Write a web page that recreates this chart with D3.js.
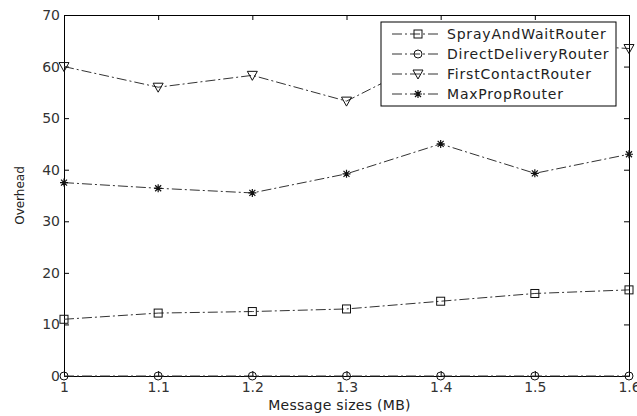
<!DOCTYPE html>
<html>
<head>
<meta charset="utf-8">
<script src="https://cdnjs.cloudflare.com/ajax/libs/d3/7.8.5/d3.min.js"></script>
<style>
  body { margin: 0; background: #fff; }
  text { font-family: "DejaVu Sans", Arial, sans-serif; }
</style>
</head>
<body>
<svg class="chart"></svg>
<script>
var sizes = [1, 1.1, 1.2, 1.3, 1.4, 1.5, 1.6];
var sprayAndWait = [11, 12.2, 12.5, 13, 14.5, 16, 16.7];
var directDelivery = [0, 0, 0, 0, 0, 0, 0];
var firstContact = [60, 56, 58.3, 53.3, 62.5, 64.5, 63.5];
var maxProp = [37.5, 36.4, 35.5, 39.2, 45, 39.3, 43];
var seriesNames = ["SprayAndWaitRouter", "DirectDeliveryRouter", "FirstContactRouter", "MaxPropRouter"];
var yTicks = [0, 10, 20, 30, 40, 50, 60, 70];

var chartWidth = 637, chartHeight = 416;
var plotLeft = 64, plotRight = 629, plotTop = 15, plotBottom = 376;

var svg = d3.select(".chart").attr("width", chartWidth).attr("height", chartHeight);

var x = d3.scaleLinear().domain([1, 1.6]).range([plotLeft, plotRight]);
var y = d3.scaleLinear().domain([0, 70]).range([plotBottom, plotTop]);

var series = [
	{ name: seriesNames[0], values: sprayAndWait, marker: "square" },
	{ name: seriesNames[1], values: directDelivery, marker: "circle" },
	{ name: seriesNames[2], values: firstContact, marker: "triangle" },
	{ name: seriesNames[3], values: maxProp, marker: "star" }
];

function drawMarker(g, type, cx, cy) {
	if (type == "square") {
		g.append("rect").attr("x", cx - 4).attr("y", cy - 4).attr("width", 8).attr("height", 8)
		 .attr("fill", "none").attr("stroke", "#111").attr("stroke-width", 1);
	} else if (type == "circle") {
		g.append("circle").attr("cx", cx).attr("cy", cy).attr("r", 4)
		 .attr("fill", "none").attr("stroke", "#111").attr("stroke-width", 1);
	} else if (type == "triangle") {
		g.append("path").attr("d", "M" + (cx - 5) + "," + (cy - 4) + "L" + (cx + 5) + "," + (cy - 4) + "L" + cx + "," + (cy + 5) + "Z")
		 .attr("fill", "none").attr("stroke", "#111").attr("stroke-width", 1);
	} else {
		g.append("path").attr("d", "M" + (cx - 4) + "," + cy + "H" + (cx + 4) + "M" + cx + "," + (cy - 4) + "V" + (cy + 4) +
			"M" + (cx - 3) + "," + (cy - 3) + "L" + (cx + 3) + "," + (cy + 3) + "M" + (cx - 3) + "," + (cy + 3) + "L" + (cx + 3) + "," + (cy - 3))
		 .attr("stroke", "#111").attr("stroke-width", 1.2);
	}
}

// axes box, ticks pointing inward
var xAxisB = d3.axisBottom(x).tickValues(sizes).tickSizeInner(-5).tickSizeOuter(0).tickPadding(6).tickFormat(d3.format(""));
var xAxisT = d3.axisTop(x).tickValues(sizes).tickSizeInner(-5).tickSizeOuter(0).tickFormat("");
var yAxisL = d3.axisLeft(y).tickValues(yTicks).tickSizeInner(-5).tickSizeOuter(0).tickPadding(4);
var yAxisR = d3.axisRight(y).tickValues(yTicks).tickSizeInner(-5).tickSizeOuter(0).tickFormat("");

function styleAxis(g) {
	g.selectAll("path, line").attr("stroke", "#000");
	g.selectAll("text").attr("font-size", 14).attr("fill", "#333").attr("font-family", "DejaVu Sans, Arial, sans-serif");
}

svg.append("g").attr("transform", "translate(0," + plotBottom + ")").call(xAxisB).call(styleAxis);
svg.append("g").attr("transform", "translate(0," + plotTop + ")").call(xAxisT).call(styleAxis);
svg.append("g").attr("transform", "translate(" + plotLeft + ",0)").call(yAxisL).call(styleAxis);
svg.append("g").attr("transform", "translate(" + plotRight + ",0)").call(yAxisR).call(styleAxis);

// lines
var line = d3.line().x(function(d, i) { return x(sizes[i]); }).y(function(d) { return y(d); });

series.forEach(function(s) {
	svg.append("path").datum(s.values)
		 .attr("d", line)
		 .attr("fill", "none")
		 .attr("stroke", "#333")
		 .attr("stroke-width", 1)
		 .attr("stroke-dasharray", "10,3,2,3");
	var g = svg.append("g");
	s.values.forEach(function(v, i) { drawMarker(g, s.marker, x(sizes[i]), y(v)); });
});

// legend
var legend = svg.append("g").attr("transform", "translate(381,22)");
legend.append("rect").attr("width", 235).attr("height", 84).attr("fill", "#fff").attr("stroke", "#000");
series.forEach(function(s, i) {
	var ly = 12 + i * 20;
	legend.append("line").attr("x1", 11).attr("x2", 60).attr("y1", ly).attr("y2", ly)
		 .attr("stroke", "#333").attr("stroke-dasharray", "10,3,2,3");
	drawMarker(legend, s.marker, 37, ly);
	legend.append("text").attr("x", 66).attr("y", ly + 5).attr("font-size", 14)
		 .style("letter-spacing", "0.8px").attr("fill", "#222").text(s.name);
});

// axis labels
svg.append("text")
	 .attr("x", (plotLeft + plotRight) / 2 - 7).attr("y", 410)
	 .style("text-anchor", "middle")
	 .style("letter-spacing", "0.3px")
	 .attr("font-size", 14).attr("fill", "#222")
	 .text("Message sizes (MB)");

svg.append("text")
	 .attr("transform", "translate(24," + ((plotTop + plotBottom) / 2) + ") rotate(-90)")
	 .style("text-anchor", "middle")
	 .attr("font-size", 12).attr("fill", "#222")
	 .text("Overhead");
</script>
</body>
</html>
